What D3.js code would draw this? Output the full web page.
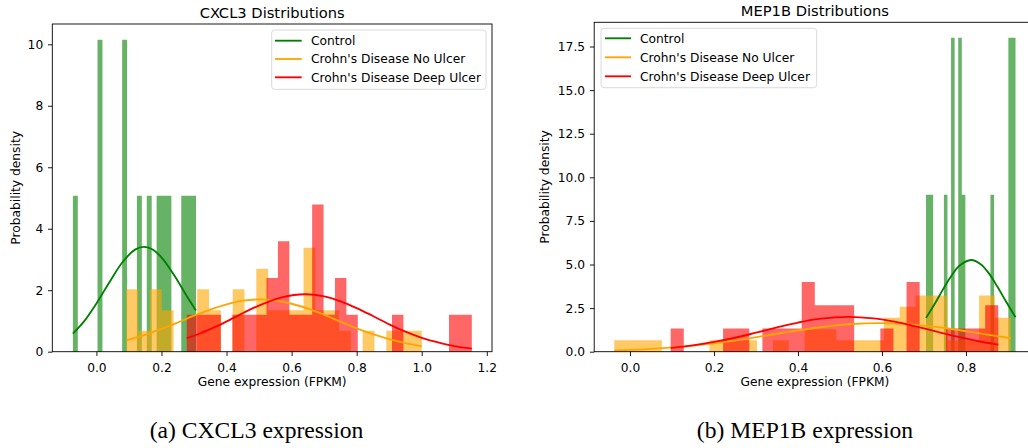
<!DOCTYPE html>
<html>
<head>
<meta charset="utf-8">
<script src="https://cdn.jsdelivr.net/npm/d3@7/dist/d3.min.js"></script>
<style>
  html, body { margin: 0; padding: 0; background: #fff; }
  svg { display: block; font-family: "DejaVu Sans", sans-serif; }
</style>
</head>
<body>
<svg id="fig" width="1028" height="448"></svg>
<script>
// ---- groups ----
const groupNames = ["Control", "Crohn's Disease No Ulcer", "Crohn's Disease Deep Ulcer"];
const groupColors = ["green", "orange", "red"];

// ---- CXCL3: 25-bin density histograms, each spanning [lo, hi] ----
const cxcl3ControlSpan = [-0.0723, 0.3062];
const cxcl3ControlDensity = [5.07, 0, 0, 0, 0, 10.15, 0, 0, 0, 0, 10.15, 0, 0, 5.07, 0, 5.07, 0, 5.07, 5.07, 5.07, 0, 0, 5.07, 5.07, 5.07];
const cxcl3NoUlcerSpan = [0.0919, 1.0];
const cxcl3NoUlcerDensity = [2.03, 0.68, 2.03, 1.35, 0, 0, 2.03, 1.35, 0, 2.03, 0, 2.70, 1.35, 1.35, 1.35, 3.38, 1.35, 1.35, 0.68, 0, 0.68, 0, 0.68, 0.68, 0.68];
const cxcl3DeepUlcerSpan = [0.2775, 1.154];
const cxcl3DeepUlcerDensity = [1.2, 1.2, 1.2, 0, 1.2, 1.2, 1.2, 2.4, 3.59, 1.2, 1.2, 4.79, 1.2, 2.4, 1.2, 0, 0, 0, 1.2, 0, 0, 0, 0, 1.2, 1.2];

// CXCL3 normal-fit curves, [expression, density]
const cxcl3ControlFit = [[-0.0723, 0.59], [-0.04, 0.96], [0, 1.57], [0.04, 2.26], [0.08, 2.91], [0.12, 3.33], [0.146, 3.41], [0.17, 3.34], [0.2, 3.07], [0.24, 2.47], [0.28, 1.77], [0.306, 1.34]];
const cxcl3NoUlcerFit = [[0.092, 0.37], [0.15, 0.55], [0.2, 0.74], [0.25, 0.95], [0.3, 1.17], [0.35, 1.37], [0.4, 1.54], [0.45, 1.66], [0.503, 1.70], [0.55, 1.66], [0.6, 1.56], [0.65, 1.40], [0.7, 1.20], [0.75, 0.98], [0.8, 0.76], [0.85, 0.57], [0.9, 0.41], [0.95, 0.28], [1.0, 0.18]];
const cxcl3DeepUlcerFit = [[0.2775, 0.44], [0.32, 0.60], [0.37, 0.83], [0.42, 1.09], [0.47, 1.36], [0.52, 1.59], [0.57, 1.77], [0.641, 1.87], [0.70, 1.80], [0.75, 1.64], [0.80, 1.42], [0.85, 1.16], [0.90, 0.89], [0.95, 0.65], [1.0, 0.45], [1.05, 0.30], [1.10, 0.18], [1.154, 0.10]];

// ---- MEP1B ----
const mep1bControlSpan = [0.7048, 0.918];
const mep1bControlDensity = [9, 9, 0, 0, 0, 9, 0, 18, 0, 18, 9, 0, 0, 0, 0, 0, 0, 0, 9, 0, 0, 0, 0, 18, 18];
const mep1bNoUlcerSpan = [-0.0374, 0.9067];
const mep1bNoUlcerDensity = [0.65, 0.65, 0.65, 0, 0, 0, 0.65, 0.65, 0.65, 0, 0.65, 0, 1.29, 1.29, 0.65, 0.65, 0.65, 1.94, 2.58, 3.23, 3.23, 0.65, 0.65, 3.23, 1.94];
const mep1bDeepUlcerSpan = [0.0969, 0.8769];
const mep1bDeepUlcerDensity = [1.33, 0, 0, 0, 1.33, 1.33, 0, 1.33, 1.33, 1.33, 3.99, 2.66, 2.66, 2.66, 0, 0, 1.33, 0, 3.99, 0, 0, 1.33, 1.33, 1.33, 2.66];

const mep1bControlFit = [[0.705, 1.94], [0.725, 2.72], [0.745, 3.56], [0.765, 4.34], [0.785, 4.94], [0.812, 5.26], [0.835, 5.02], [0.855, 4.48], [0.875, 3.72], [0.895, 2.89], [0.918, 1.98]];
const mep1bNoUlcerFit = [[-0.037, 0.07], [0.05, 0.16], [0.15, 0.35], [0.25, 0.64], [0.35, 1.03], [0.45, 1.39], [0.53, 1.59], [0.59, 1.64], [0.65, 1.60], [0.75, 1.36], [0.85, 0.98], [0.907, 0.77]];
const mep1bDeepUlcerFit = [[0.097, 0.21], [0.15, 0.36], [0.20, 0.56], [0.25, 0.80], [0.30, 1.09], [0.35, 1.39], [0.40, 1.67], [0.45, 1.88], [0.52, 2.0], [0.58, 1.91], [0.63, 1.72], [0.68, 1.45], [0.73, 1.15], [0.78, 0.86], [0.83, 0.60], [0.877, 0.41]];

// ---- ticks / labels ----
const cxcl3XTicks = [0.0, 0.2, 0.4, 0.6, 0.8, 1.0, 1.2];
const cxcl3YTicks = [0, 2, 4, 6, 8, 10];
const mep1bXTicks = [0.0, 0.2, 0.4, 0.6, 0.8];
const mep1bYTicks = [0, 2.5, 5, 7.5, 10, 12.5, 15, 17.5];
const panelTitles = ["CXCL3 Distributions", "MEP1B Distributions"];
const captions = ["(a) CXCL3 expression", "(b) MEP1B expression"];
const xLabel = "Gene expression (FPKM)";
const yLabel = "Probability density";

// ---- panel setup (data + layout) ----
const panels = [
  {
    title: panelTitles[0], caption: captions[0],
    hists: [
      { span: cxcl3ControlSpan, density: cxcl3ControlDensity },
      { span: cxcl3NoUlcerSpan, density: cxcl3NoUlcerDensity },
      { span: cxcl3DeepUlcerSpan, density: cxcl3DeepUlcerDensity }
    ],
    fits: [cxcl3ControlFit, cxcl3NoUlcerFit, cxcl3DeepUlcerFit],
    xDomain: [-0.1356, 1.216], yDomain: [0, 10.66],
    xTicks: cxcl3XTicks, yTicks: cxcl3YTicks, yFmt: d3.format("d"),
    box: { left: 52.3, right: 492, top: 24, bottom: 351.7 },
    titleY: 18, yLabelX: 19.5, captionX: 256.5,
    legend: { x0: 271.7, x1: 486, y0: 30, y1: 89.3, lineX0: 275, lineX1: 301.7, textX: 311, rows: [40.7, 59, 77.3] }
  },
  {
    title: panelTitles[1], caption: captions[1],
    hists: [
      { span: mep1bControlSpan, density: mep1bControlDensity },
      { span: mep1bNoUlcerSpan, density: mep1bNoUlcerDensity },
      { span: mep1bDeepUlcerSpan, density: mep1bDeepUlcerDensity }
    ],
    fits: [mep1bControlFit, mep1bNoUlcerFit, mep1bDeepUlcerFit],
    xDomain: [-0.0852, 0.9658], yDomain: [0, 18.89],
    xTicks: mep1bXTicks, yTicks: mep1bYTicks, yFmt: d3.format(".1f"),
    box: { left: 594.2, right: 1035.6, top: 22.3, bottom: 351.7 },
    titleY: 15.8, yLabelX: 549, captionX: 805,
    legend: { x0: 601, x1: 816.7, y0: 28.3, y1: 87.7, lineX0: 605, lineX1: 631, textX: 640, rows: [38.3, 57.3, 76.3] }
  }
];

const svg = d3.select("#fig");
const FS = 12.25;       // tick / label / legend size
const TICK = 4.3;

function drawPanel(p) {
  const b = p.box;
  const g = svg.append("g");
  const x = d3.scaleLinear().domain(p.xDomain).range([b.left, b.right]);
  const y = d3.scaleLinear().domain(p.yDomain).range([b.bottom, b.top]);

  // histogram bars, one path per group so neighbouring bins merge cleanly
  p.hists.forEach((h, i) => {
    const n = h.density.length;
    const edges = d3.range(n + 1).map(k => h.span[0] + (h.span[1] - h.span[0]) * k / n);
    let d = "";
    h.density.forEach((v, k) => {
      if (v > 0) {
        d += `M${x(edges[k])},${y(0)}H${x(edges[k + 1])}V${y(v)}H${x(edges[k])}Z`;
      }
    });
    g.append("path").attr("d", d)
      .attr("fill", groupColors[i]).attr("fill-opacity", 0.6);
  });

  // fitted density curves
  const line = d3.line().x(d => x(d[0])).y(d => y(d[1])).curve(d3.curveCatmullRom);
  p.fits.forEach((pts, i) => {
    g.append("path").attr("d", line(pts))
      .attr("fill", "none").attr("stroke", groupColors[i])
      .attr("stroke-width", 1.85).attr("stroke-linecap", "butt");
  });

  // x axis
  const xa = g.append("g").attr("transform", `translate(0,${b.bottom})`)
    .call(d3.axisBottom(x).tickValues(p.xTicks).tickFormat(d3.format(".1f"))
      .tickSize(TICK).tickPadding(TICK));
  xa.select(".domain").remove();
  xa.selectAll("line").attr("stroke", "#000").attr("stroke-width", 0.9);
  xa.selectAll("text").attr("font-size", FS).attr("font-family", "DejaVu Sans")
    .attr("fill", "#000").attr("y", 20).attr("dy", null);

  // y axis
  const ya = g.append("g").attr("transform", `translate(${b.left},0)`)
    .call(d3.axisLeft(y).tickValues(p.yTicks).tickFormat(p.yFmt)
      .tickSize(TICK).tickPadding(4.8));
  ya.select(".domain").remove();
  ya.selectAll("line").attr("stroke", "#000").attr("stroke-width", 0.9);
  ya.selectAll("text").attr("font-size", FS).attr("font-family", "DejaVu Sans")
    .attr("fill", "#000");

  // frame
  g.append("rect").attr("x", b.left).attr("y", b.top)
    .attr("width", b.right - b.left).attr("height", b.bottom - b.top)
    .attr("fill", "none").attr("stroke", "#000").attr("stroke-width", 0.9);

  // titles and axis labels
  const cx = (b.left + b.right) / 2;
  g.append("text").attr("x", cx).attr("y", p.titleY)
    .attr("text-anchor", "middle").attr("font-size", 14.7).attr("fill", "#000")
    .text(p.title);
  g.append("text").attr("x", cx).attr("y", 386)
    .attr("text-anchor", "middle").attr("font-size", FS).attr("fill", "#000")
    .text(xLabel);
  const cy = (b.top + b.bottom) / 2;
  g.append("text").attr("transform", `translate(${p.yLabelX},${cy}) rotate(-90)`)
    .attr("text-anchor", "middle").attr("font-size", FS).attr("fill", "#000")
    .text(yLabel);

  // legend
  const L = p.legend;
  g.append("rect").attr("x", L.x0).attr("y", L.y0)
    .attr("width", L.x1 - L.x0).attr("height", L.y1 - L.y0).attr("rx", 3)
    .attr("fill", "#fff").attr("fill-opacity", 0.8)
    .attr("stroke", "#d6d6d6").attr("stroke-width", 0.9);
  groupNames.forEach((name, i) => {
    g.append("line").attr("x1", L.lineX0).attr("x2", L.lineX1)
      .attr("y1", L.rows[i]).attr("y2", L.rows[i])
      .attr("stroke", groupColors[i]).attr("stroke-width", 1.85);
    g.append("text").attr("x", L.textX).attr("y", L.rows[i] + 4.4)
      .attr("font-size", FS).attr("fill", "#000").text(name);
  });

  // sub-figure caption
  svg.append("text").attr("x", p.captionX).attr("y", 438)
    .attr("text-anchor", "middle")
    .attr("font-family", "'Liberation Serif', 'Times New Roman', serif")
    .attr("font-size", 23.6).attr("fill", "#000")
    .text(p.caption);
}

panels.forEach(drawPanel);
</script>
</body>
</html>
